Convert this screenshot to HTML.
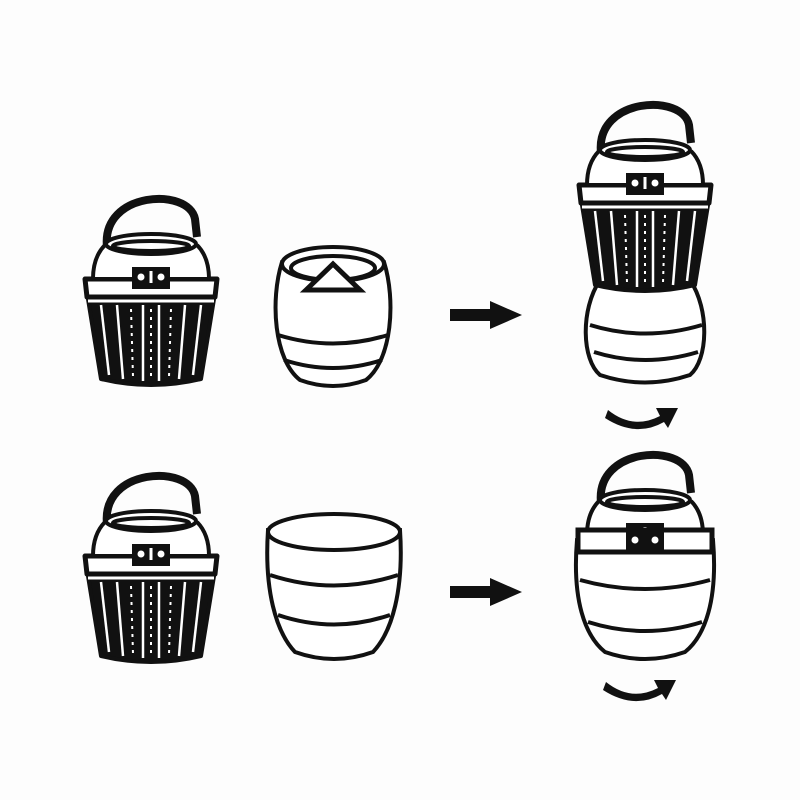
<!DOCTYPE html>
<html><head><style>html,body{margin:0;padding:0;background:#fff}svg{display:block}</style></head>
<body>
<svg width="800" height="800" viewBox="0 0 800 800" xmlns="http://www.w3.org/2000/svg">
<rect width="800" height="800" fill="#fdfdfd"/>
<defs>
<g id="top" fill="none" stroke="#111" stroke-width="4" stroke-linejoin="round">
  <path d="M-44,50 C-50,-6 38,-10 44,22 L46,40" stroke-width="8"/>
  <path d="M-46,48 C-56,58 -58,72 -58,82 L58,82 C58,72 56,58 46,48" fill="#fff"/>
  <ellipse cx="0" cy="47" rx="45" ry="10" fill="#fff"/>
  <ellipse cx="0" cy="49" rx="38" ry="5"/>
  <rect x="-19" y="70" width="38" height="22" fill="#111" stroke="none"/>
  <circle cx="-10" cy="80" r="3.5" fill="#fff" stroke="none"/>
  <circle cx="10" cy="80" r="3.5" fill="#fff" stroke="none"/>
  <rect x="-1.5" y="74" width="3" height="12" fill="#fff" stroke="none"/>
</g>
<g id="basket" stroke="#111" stroke-linejoin="round">
  <path d="M-64,96 L-50,182 Q0,194 50,182 L64,96 Z" fill="#111" stroke-width="4"/>
  <path d="M-66,82 L66,82 L64,100 L-64,100 Z" fill="#fff" stroke-width="5"/>
  <path d="M-63,104 L63,104" stroke="#fff" stroke-width="3"/>
  <g stroke="#fff" stroke-width="2.5">
    <path d="M-50,108 L-42,178"/><path d="M-34,108 L-28,182"/>
    <path d="M-8,108 L-8,184"/><path d="M8,108 L8,184"/>
    <path d="M34,108 L28,182"/><path d="M50,108 L42,178"/>
  </g>
  <g stroke="#fff" stroke-width="2" stroke-dasharray="3 5">
    <path d="M-20,112 L-18,180"/><path d="M0,112 L0,182"/><path d="M20,112 L18,180"/>
  </g>
</g>
<path id="arr" d="M0,-6 L40,-6 L40,-14 L72,0 L40,14 L40,6 L0,6 Z" fill="#111"/>
<path id="curv" d="M0,0 Q25,20 52,6 L48,-2 L70,-2 L60,18 L56,12 Q28,28 -3,8 Z" fill="#111"/>
</defs>

<!-- Row 1 -->
<g transform="translate(151,197)"><use href="#basket"/><use href="#top"/></g>
<g fill="#fff" stroke="#111" stroke-width="4">
  <path d="M282,262 C270,300 274,360 300,380 Q333,392 366,380 C392,360 396,300 384,262 Z"/>
  <path d="M278,335 Q333,352 388,335" fill="none"/>
  <path d="M284,360 Q333,376 382,360" fill="none"/>
  <ellipse cx="333" cy="264" rx="51" ry="17"/>
  <ellipse cx="333" cy="268" rx="42" ry="12"/>
  <path d="M306,290 L333,264 L360,290 Z" stroke-width="5"/>
</g>
<use href="#arr" x="450" y="315"/>
<g fill="#fff" stroke="#111" stroke-width="4">
  <path d="M600,280 C580,310 582,360 600,375 Q645,390 690,375 C708,360 710,310 690,280 Z"/>
  <path d="M590,325 Q645,342 702,325" fill="none"/>
  <path d="M594,352 Q645,368 698,352" fill="none"/>
</g>
<g transform="translate(645,103)"><use href="#basket"/><use href="#top"/></g>
<use href="#curv" x="608" y="410"/>

<!-- Row 2 -->
<g transform="translate(151,474)"><use href="#basket"/><use href="#top"/></g>
<g fill="#fff" stroke="#111" stroke-width="4">
  <path d="M268,530 C264,590 276,632 295,652 Q334,666 373,652 C392,632 404,590 400,530 Z"/>
  <path d="M270,575 Q334,596 398,575" fill="none"/>
  <path d="M278,615 Q334,634 390,615" fill="none"/>
  <ellipse cx="334" cy="532" rx="66" ry="18"/>
</g>
<use href="#arr" x="450" y="592"/>
<g transform="translate(645,453)"><use href="#top"/></g>
<g fill="#fff" stroke="#111" stroke-width="4">
  <path d="M577,540 C572,600 585,636 605,652 Q645,666 685,652 C705,636 718,600 713,540 Z"/>
  <path d="M580,580 Q645,598 710,580" fill="none"/>
  <path d="M588,622 Q645,640 702,622" fill="none"/>
  <path d="M578,530 L712,530 L712,552 L578,552 Z" stroke-width="5"/>
  <rect x="626" y="530" width="38" height="20" fill="#111" stroke="none"/>
  <circle cx="635" cy="540" r="3.5" fill="#fff" stroke="none"/>
  <circle cx="655" cy="540" r="3.5" fill="#fff" stroke="none"/>
</g>
<use href="#curv" x="606" y="682"/>
</svg>
</body></html>
